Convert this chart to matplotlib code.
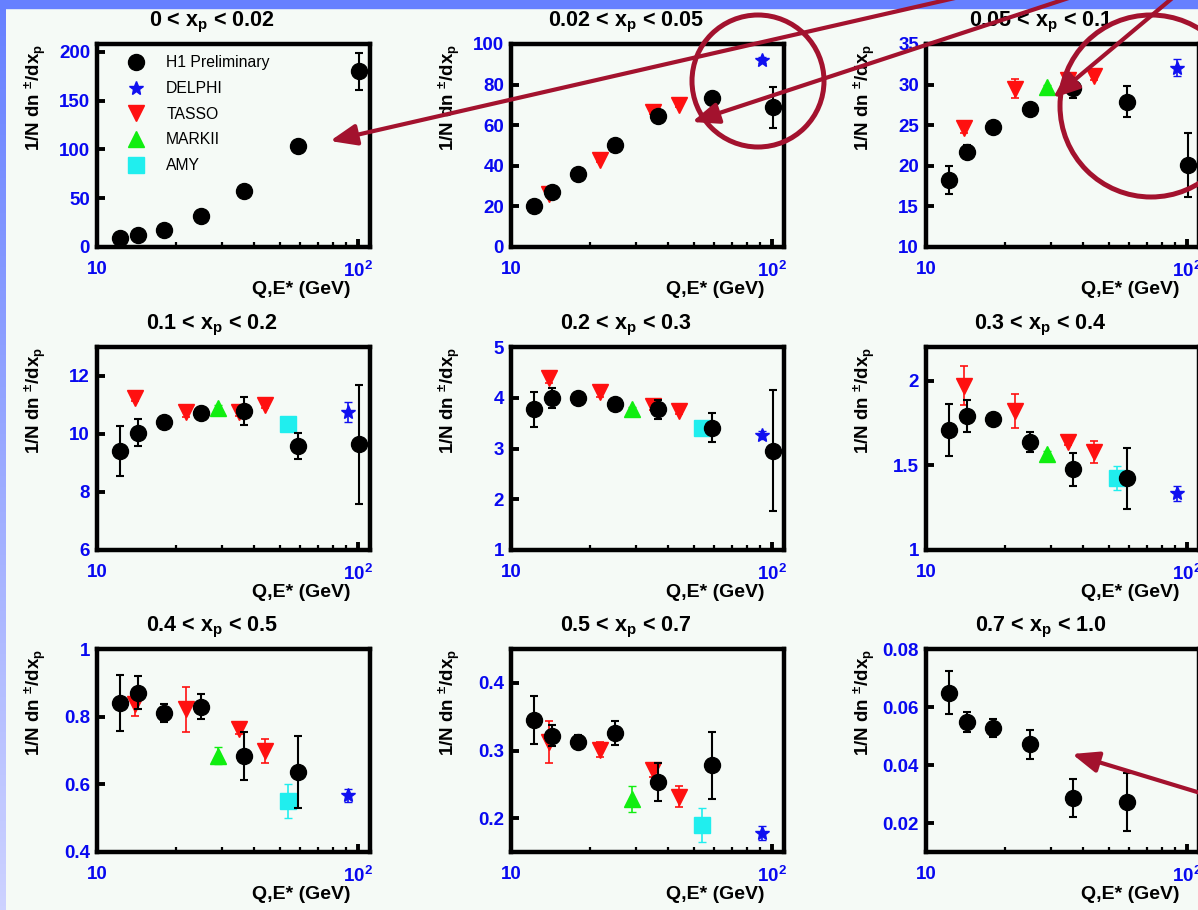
import numpy as np
import matplotlib
matplotlib.use("Agg")
import matplotlib.pyplot as plt
from matplotlib.patches import Circle, Rectangle
from matplotlib.colors import LinearSegmentedColormap
from matplotlib.lines import Line2D
from matplotlib.ticker import FixedLocator, FuncFormatter, NullFormatter

plt.rcParams["font.family"] = ["Liberation Sans", "DejaVu Sans"]
plt.rcParams["font.weight"] = "bold"
plt.rcParams["mathtext.default"] = "regular"

W, H = 1198, 910

# ---- data ----
BINS = [r"0 < x$_{p}$ < 0.02", r"0.02 < x$_{p}$ < 0.05", r"0.05 < x$_{p}$ < 0.1",
        r"0.1 < x$_{p}$ < 0.2", r"0.2 < x$_{p}$ < 0.3", r"0.3 < x$_{p}$ < 0.4",
        r"0.4 < x$_{p}$ < 0.5", r"0.5 < x$_{p}$ < 0.7", r"0.7 < x$_{p}$ < 1.0"]

H1_Q = [12.3, 14.4, 18.0, 24.9, 36.6, 59.0, 101.0]
TASSO_E = [14.0, 22.0, 35.0, 44.0]
MARKII_E = 29.0
AMY_E = 54.0
DELPHI_E = 91.2

H1_VAL = [
    [9.5, 12.0, 17.7, 31.4, 57.3, 103.4, 180.0],
    [20.2, 26.9, 36.0, 50.1, 64.3, 73.5, 68.8],
    [18.25, 21.75, 24.8, 26.96, 29.6, 27.9, 20.1],
    [9.41, 10.05, 10.4, 10.73, 10.79, 9.6, 9.65],
    [3.77, 3.99, 4.0, 3.88, 3.77, 3.41, 2.96],
    [1.709, 1.79, 1.775, 1.64, 1.476, 1.425],
    [0.841, 0.871, 0.811, 0.829, 0.684, 0.636],
    [0.345, 0.322, 0.313, 0.326, 0.254, 0.278],
    [0.0649, 0.0549, 0.0527, 0.0471, 0.0287, 0.0274],
]
H1_ERR = [
    [1.0, 1.0, 1.0, 1.5, 2.0, 3.0, 19.0],
    [1.0, 1.0, 1.0, 1.0, 1.5, 3.0, 10.0],
    [1.7, 0.8, 0.6, 0.6, 1.2, 1.9, 4.0],
    [0.85, 0.47, 0.15, 0.2, 0.47, 0.45, 2.05],
    [0.35, 0.2, 0.07, 0.07, 0.18, 0.28, 1.2],
    [0.155, 0.095, 0.03, 0.06, 0.095, 0.18],
    [0.083, 0.048, 0.027, 0.037, 0.07, 0.107],
    [0.035, 0.015, 0.01, 0.018, 0.028, 0.05],
    [0.0074, 0.0035, 0.003, 0.005, 0.0065, 0.01],
]
TASSO_VAL = [
    [],
    [26.0, 43.1, 66.3, 70.0],
    [24.6, 29.5, 30.6, 31.0],
    [11.23, 10.77, 10.77, 11.0],
    [4.39, 4.12, 3.83, 3.73],
    [1.97, 1.82, 1.64, 1.58],
    [0.837, 0.822, 0.764, 0.699],
    [0.312, 0.301, 0.271, 0.232],
    [],
]
TASSO_ERR = [
    [],
    [1.0, 1.0, 1.0, 1.0],
    [0.5, 1.2, 0.5, 0.4],
    [0.1, 0.2, 0.15, 0.1],
    [0.1, 0.1, 0.08, 0.05],
    [0.115, 0.1, 0.02, 0.065],
    [0.034, 0.066, 0.015, 0.035],
    [0.031, 0.011, 0.01, 0.015],
    [],
]
MARKII_VAL = [None, None, 29.7, 10.91, 3.77, 1.567, 0.684, 0.228, None]
MARKII_ERR = [None, None, 0.3, 0.1, 0.05, 0.02, 0.025, 0.019, None]
AMY_VAL = [None, None, None, 10.33, 3.41, 1.425, 0.551, 0.19, None]
AMY_ERR = [None, None, None, 0.2, 0.08, 0.07, 0.05, 0.025, None]
DELPHI_VAL = [None, 92.0, 32.1, 10.75, 3.27, 1.334, 0.568, 0.178, None]
DELPHI_ERR = [None, 1.5, 1.0, 0.35, 0.08, 0.045, 0.019, 0.011, None]

YLIMS = [(0, 208), (0, 100), (10, 35), (6, 13), (1, 5), (1, 2.2),
         (0.4, 1.0), (0.15, 0.45), (0.01, 0.08)]
YTICKS = [[0, 50, 100, 150, 200], [0, 20, 40, 60, 80, 100], [10, 15, 20, 25, 30, 35],
          [6, 8, 10, 12], [1, 2, 3, 4, 5], [1, 1.5, 2], [0.4, 0.6, 0.8, 1.0],
          [0.2, 0.3, 0.4], [0.02, 0.04, 0.06, 0.08]]

# ---- layout in pixels ----
COL_X = [97, 511, 926]
ROW_Y = [44, 347, 649]
AX_W, AX_H = 273, 203
BG = "#f5faf6"
ANNOT = "#a3122e"
TICKBLUE = "#0808f0"


def px_rect(x, y, w, h):
    return [x / W, 1 - (y + h) / H, w / W, h / H]


fig = plt.figure(figsize=(W / 100, H / 100), dpi=100, facecolor=BG)

# slide background: blue band on top, gradient strip on the left
bg = fig.add_axes([0, 0, 1, 1], zorder=-10)
bg.axis("off")
cmap = LinearSegmentedColormap.from_list("edge", ["#6680ff", "#cdd2ff"])
bg.imshow(np.linspace(0, 1, 256).reshape(-1, 1), extent=(0, 6, H, 0),
          aspect="auto", cmap=cmap)
bg.add_patch(Rectangle((0, 0), W, 8, color="#6680ff"))
bg.set_xlim(0, W)
bg.set_ylim(H, 0)

for i in range(9):
    r, c = divmod(i, 3)
    ax = fig.add_axes(px_rect(COL_X[c], ROW_Y[r], AX_W, AX_H))
    ax.set_facecolor("none")
    ax.set_xscale("log")
    ax.set_xlim(10, 110.8)
    ax.set_ylim(*YLIMS[i])

    if TASSO_VAL[i]:
        ax.errorbar(TASSO_E, TASSO_VAL[i], yerr=TASSO_ERR[i], fmt="v", color="#ff1010",
                    ms=11, capsize=3, elinewidth=1.2, capthick=1.2, zorder=3)
    if MARKII_VAL[i] is not None:
        ax.errorbar([MARKII_E], [MARKII_VAL[i]], yerr=[MARKII_ERR[i]], fmt="^",
                    color="#10ee10", ms=11, capsize=3, elinewidth=1.2, zorder=3)
    if AMY_VAL[i] is not None:
        ax.errorbar([AMY_E], [AMY_VAL[i]], yerr=[AMY_ERR[i]], fmt="s",
                    color="#20eeee", ms=11, capsize=3, elinewidth=1.2, zorder=3)
    if DELPHI_VAL[i] is not None:
        ax.errorbar([DELPHI_E], [DELPHI_VAL[i]], yerr=[DELPHI_ERR[i]], fmt="*",
                    color="#1010f0", ms=10, capsize=3, elinewidth=1.2, zorder=3)
    n = len(H1_VAL[i])
    ax.errorbar(H1_Q[:n], H1_VAL[i], yerr=H1_ERR[i], fmt="o", color="black",
                ms=11.5, capsize=3, elinewidth=1.5, capthick=1.5, zorder=5)

    # ROOT-like frame and ticks
    for sp in ax.spines.values():
        sp.set_linewidth(3.2)
    ax.xaxis.set_major_locator(FixedLocator([10, 100]))
    ax.xaxis.set_minor_locator(FixedLocator([20, 30, 40, 50, 60, 70, 80, 90]))
    ax.xaxis.set_major_formatter(FuncFormatter(lambda v, _: "10" if v < 50 else "10$^{2}$"))
    ax.xaxis.set_minor_formatter(NullFormatter())
    ax.yaxis.set_major_locator(FixedLocator(YTICKS[i]))
    ax.yaxis.set_minor_locator(FixedLocator([]))
    ax.yaxis.set_major_formatter(FuncFormatter(lambda v, _: f"{v:g}"))
    ax.tick_params(which="both", direction="in", top=False, right=False,
                   labelcolor=TICKBLUE, labelsize=13.5)
    ax.tick_params(which="major", length=6, width=2.8)
    ax.tick_params(which="minor", length=3.5, width=1.6)
    ax.tick_params(axis="x", pad=10)
    ax.tick_params(axis="y", pad=5)

    ax.text(0.42, 1.089, BINS[i], transform=ax.transAxes, ha="center",
            va="baseline", fontsize=15.5)
    ax.text(-0.228, 1.0, r"1/N dn $^{\pm}$/dx$_{p}$", transform=ax.transAxes,
            rotation=90, ha="center", va="top", fontsize=13.5)
    ax.text(0.927, -0.21, "Q,E* (GeV)", transform=ax.transAxes, ha="right",
            va="center", fontsize=14)

    if i == 0:
        handles = [
            Line2D([], [], ls="none", marker="o", color="black", ms=11.5),
            Line2D([], [], ls="none", marker="*", color="#1010f0", ms=10),
            Line2D([], [], ls="none", marker="v", color="#ff1010", ms=11),
            Line2D([], [], ls="none", marker="^", color="#10ee10", ms=11),
            Line2D([], [], ls="none", marker="s", color="#20eeee", ms=11),
        ]
        ax.legend(handles, ["H1 Preliminary", "DELPHI", "TASSO", "MARKII", "AMY"],
                  loc="upper left", bbox_to_anchor=(0.078, 0.975), frameon=False,
                  prop={"weight": "normal", "size": 11.3}, labelspacing=0.68,
                  handlelength=1.5, handletextpad=1.15, borderaxespad=0)

# ---- hand-drawn slide annotations (pixel coordinates) ----
ov = fig.add_axes([0, 0, 1, 1], zorder=20)
ov.set_facecolor("none")
ov.axis("off")
ov.set_xlim(0, W)
ov.set_ylim(H, 0)
arrows = [((990, -10), (330, 141)), ((1093, -10), (692, 122)),
          ((1182, -10), (1053, 98)), ((1230, 802), (1072, 754))]
for start, tip in arrows:
    ov.annotate("", xy=tip, xytext=start, annotation_clip=False,
                arrowprops=dict(arrowstyle="-|>,head_length=1.0,head_width=0.4",
                                mutation_scale=16, lw=3, color=ANNOT,
                                shrinkA=0, shrinkB=0))
ov.add_patch(Circle((758, 81), 66, fill=False, lw=3.6, ec=ANNOT))
ov.add_patch(Circle((1151, 106), 91, fill=False, lw=3.6, ec=ANNOT))

fig.savefig("out.png", dpi=100, facecolor=BG)
